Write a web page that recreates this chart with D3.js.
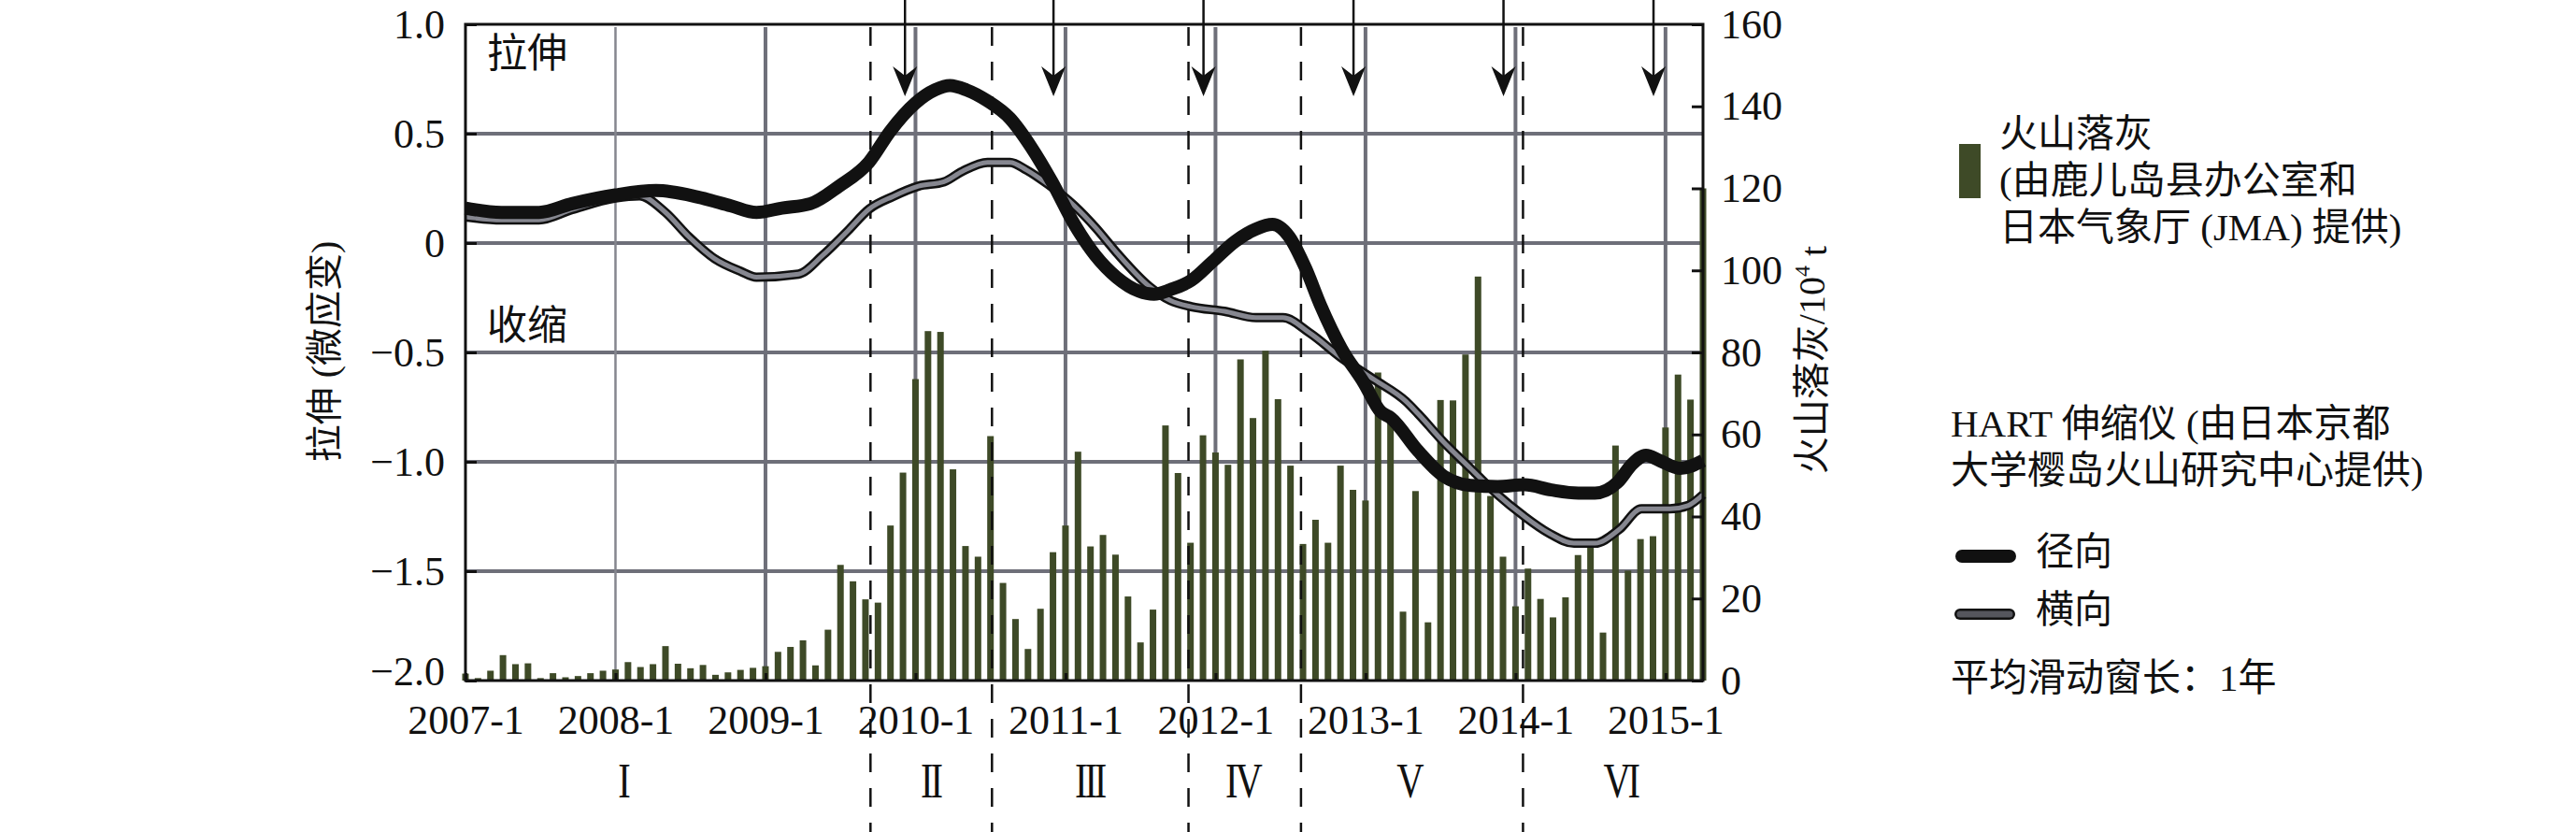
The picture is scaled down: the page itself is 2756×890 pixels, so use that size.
<!DOCTYPE html>
<html><head><meta charset="utf-8">
<script src="https://cdn.jsdelivr.net/npm/d3@7"></script>
<style>
body{margin:0;background:#fff;}
svg{display:block;}
.num{font-family:"Liberation Serif","Times New Roman",serif;}
.cjk{font-family:"Liberation Serif","Noto Sans CJK SC",serif;}
</style></head><body>
<svg id="c" width="2756" height="890"></svg>
<script>
// ---------- data ----------
const ashStartYear = 2007;           // first bar = 2007-1, one bar per month
const ashValues = [
  1.7, 0.6, 2.4, 6.2, 4.0, 4.2, 0.6, 1.8, 0.8, 1.1, 1.8, 2.4,
  2.7, 4.5, 3.3, 4.0, 8.4, 4.1, 3.0, 3.8, 1.4, 2.0, 2.6, 3.1,
  3.5, 7.0, 8.2, 9.8, 3.7, 12.4, 28.2, 24.2, 19.8, 19.0, 37.8, 50.7,
  73.5, 85.2, 85.0, 51.5, 32.8, 30.2, 59.6, 23.8, 15.0, 7.7, 17.5, 31.3,
  37.8, 55.8, 32.7, 35.5, 30.7, 20.5, 9.3, 17.3, 62.2, 50.6, 33.6, 59.8,
  55.6, 52.6, 78.3, 64.0, 80.4, 68.6, 52.4, 33.3, 39.2, 33.6, 52.4, 46.5,
  43.9, 75.1, 64.0, 16.8, 46.2, 14.2, 68.4, 68.3, 79.5, 98.5, 45.0, 30.2,
  18.1, 27.3, 19.9, 15.4, 20.3, 30.6, 33.0, 11.7, 57.3, 26.8, 34.5, 35.2,
  61.7, 74.6, 68.5, 120.0
];
const radialT = [2007.00,2007.24,2007.49,2007.71,2008.00,2008.27,2008.55,2008.77,2008.94,2009.11,2009.30,2009.49,2009.69,2009.83,2010.00,2010.13,2010.23,2010.34,2010.48,2010.63,2010.77,2010.91,2011.06,2011.20,2011.34,2011.49,2011.59,2011.70,2011.84,2011.98,2012.13,2012.27,2012.38,2012.49,2012.60,2012.70,2012.84,2012.99,2013.10,2013.17,2013.35,2013.52,2013.70,2013.88,2014.06,2014.24,2014.42,2014.53,2014.68,2014.78,2014.87,2014.96,2015.10,2015.25];
const radialV = [0.16,0.14,0.14,0.18,0.22,0.24,0.21,0.17,0.14,0.16,0.18,0.26,0.37,0.51,0.64,0.70,0.72,0.70,0.65,0.57,0.44,0.28,0.085,-0.057,-0.156,-0.22,-0.234,-0.213,-0.17,-0.085,0.007,0.064,0.085,0.03,-0.114,-0.284,-0.483,-0.64,-0.77,-0.80,-0.95,-1.065,-1.108,-1.113,-1.105,-1.129,-1.143,-1.143,-1.094,-1.009,-0.97,-0.994,-1.03,-0.995];
const tangentialT = [2007.00,2007.24,2007.49,2007.71,2008.00,2008.16,2008.33,2008.49,2008.66,2008.83,2008.94,2009.22,2009.38,2009.55,2009.69,2009.85,2010.02,2010.19,2010.31,2010.48,2010.63,2010.74,2010.88,2011.06,2011.20,2011.34,2011.56,2011.70,2011.84,2012.06,2012.27,2012.45,2012.63,2012.84,2013.06,2013.27,2013.35,2013.52,2013.70,2013.88,2014.05,2014.22,2014.39,2014.53,2014.69,2014.84,2015.03,2015.15,2015.25];
const tangentialV = [0.12,0.106,0.106,0.153,0.206,0.216,0.142,0.028,-0.071,-0.128,-0.156,-0.142,-0.057,0.057,0.155,0.213,0.26,0.28,0.327,0.369,0.369,0.334,0.27,0.17,0.071,-0.043,-0.199,-0.263,-0.291,-0.312,-0.341,-0.341,-0.412,-0.525,-0.625,-0.724,-0.78,-0.909,-1.03,-1.15,-1.245,-1.325,-1.372,-1.372,-1.31,-1.215,-1.215,-1.20,-1.15];
const phaseBounds = [2009.70, 2010.51, 2011.82, 2012.57, 2014.05];
const phaseLabels = ["I", "II", "III", "IV", "V", "VI"];
const phaseLabelPos = [2008.05, 2010.10, 2011.16, 2012.18, 2013.29, 2014.70];
const arrowDates = [2009.93, 2010.92, 2011.92, 2012.92, 2013.92, 2014.92];
const yearTicks = [2007, 2008, 2009, 2010, 2011, 2012, 2013, 2014, 2015];
const leftTicks = [1.0, 0.5, 0, -0.5, -1.0, -1.5, -2.0];
const leftTickLabels = ["1.0", "0.5", "0", "\u22120.5", "\u22121.0", "\u22121.5", "\u22122.0"];
const rightTicks = [0, 20, 40, 60, 80, 100, 120, 140, 160];
const ashLegend = ["火山落灰", "(由鹿儿岛县办公室和", "日本气象厅 (JMA) 提供)"];
const hartLegend = ["HART 伸缩仪 (由日本京都", "大学樱岛火山研究中心提供)"];
const seriesNames = ["径向", "横向"];
const windowNote = "平均滑动窗长：1年";

// ---------- layout ----------
const L = 498, R = 1822, T = 26, B = 728;
const svg = d3.select("#c");
const x = d3.scaleLinear().domain([2007, 2015.25]).range([L, R]);
const yL = d3.scaleLinear().domain([-2, 1]).range([B, T]);
const yR = d3.scaleLinear().domain([0, 160]).range([B, T]);
const gridCol = "#6e6f79";

// horizontal grid
svg.append("g").selectAll("line").data(leftTicks.filter(v => v > -2 && v < 1)).join("line")
  .attr("x1", L).attr("x2", R).attr("y1", d => yL(d)).attr("y2", d => yL(d))
  .attr("stroke", gridCol).attr("stroke-width", 4);
// vertical grid
svg.append("g").selectAll("line").data(yearTicks.slice(1)).join("line")
  .attr("x1", d => x(d)).attr("x2", d => x(d)).attr("y1", T + 3).attr("y2", B)
  .attr("stroke", d => d === 2008 ? "#85868e" : gridCol)
  .attr("stroke-width", d => d === 2008 ? 2.5 : 4);

// bars
const barW = 7;
svg.append("g").selectAll("rect").data(ashValues).join("rect")
  .attr("x", (d, i) => x(ashStartYear + i / 12) - barW / 2)
  .attr("width", barW)
  .attr("y", d => yR(d)).attr("height", d => B - yR(d))
  .attr("fill", "#3e4a27");

// dashed phase boundaries
svg.append("g").selectAll("line").data(phaseBounds).join("line")
  .attr("x1", d => x(d)).attr("x2", d => x(d)).attr("y1", T + 3).attr("y2", 890)
  .attr("stroke", "#111").attr("stroke-width", 2.5).attr("stroke-dasharray", "20,17");

// strain lines
const lineGen = d3.line().x(d => x(d[0])).y(d => yL(d[1])).curve(d3.curveMonotoneX);
const tang = tangentialT.map((t, i) => [t, tangentialV[i]]);
const rad = radialT.map((t, i) => [t, radialV[i]]);
svg.append("path").attr("d", lineGen(tang)).attr("fill", "none").attr("stroke", "#111").attr("stroke-width", 10).attr("stroke-linejoin", "round");
svg.append("path").attr("d", lineGen(tang)).attr("fill", "none").attr("stroke", "#868790").attr("stroke-width", 5).attr("stroke-linejoin", "round");
svg.append("path").attr("d", lineGen(rad)).attr("fill", "none").attr("stroke", "#111").attr("stroke-width", 14).attr("stroke-linejoin", "round");

// axes
const axL = d3.axisLeft(yL).tickValues(leftTicks).tickFormat((d, i) => leftTickLabels[i]).tickSizeInner(-12).tickSizeOuter(0).tickPadding(22);
const gL = svg.append("g").attr("transform", `translate(${L},0)`).call(axL);
const axR = d3.axisRight(yR).tickValues(rightTicks).tickFormat(d3.format("d")).tickSizeInner(-12).tickSizeOuter(0).tickPadding(19);
const gR = svg.append("g").attr("transform", `translate(${R},0)`).call(axR);
const axB = d3.axisBottom(x).tickValues(yearTicks).tickFormat(d => d + "-1").tickSizeInner(-8).tickSizeOuter(0).tickPadding(26);
const gB = svg.append("g").attr("transform", `translate(0,${B})`).call(axB);
[gL, gR, gB].forEach(g => {
  g.select(".domain").remove();
  g.selectAll(".tick line").attr("stroke", "#111").attr("stroke-width", 3);
  g.selectAll("text").attr("class", "num").attr("font-size", 44).attr("fill", "#111");
});
gB.selectAll("text").attr("font-size", 44);
// lowest left label sits slightly above its tick, as in the original
gL.selectAll(".tick").filter(d => d === -2).select("text").attr("dy", "0.1em");
// frame
svg.append("rect").attr("x", L).attr("y", T).attr("width", R - L).attr("height", B - T)
  .attr("fill", "none").attr("stroke", "#111").attr("stroke-width", 3);

// arrows
const ag = svg.append("g").selectAll("g").data(arrowDates).join("g")
  .attr("transform", d => `translate(${x(d)},0)`);
ag.append("line").attr("x1", 0).attr("x2", 0).attr("y1", 0).attr("y2", 90).attr("stroke", "#111").attr("stroke-width", 2.5);
ag.append("path").attr("d", "M0,103 L-13,71 L0,81 L13,71 Z").attr("fill", "#111");

// phase labels (Roman numerals)
svg.append("g").selectAll("text").data(phaseLabels).join("text")
  .attr("class", "num")
  .attr("transform", (d, i) => `translate(${x(phaseLabelPos[i])},835) scale(0.78,1)`)
  .attr("dy", "0.35em").attr("text-anchor", "middle").attr("font-size", 52)
  .attr("letter-spacing", -4).attr("fill", "#111").text(d => d);

// in-plot labels
svg.append("text").attr("class", "cjk").attr("x", 521).attr("y", 57).attr("dy", "0.36em")
  .attr("font-size", 43).attr("fill", "#111").text("拉伸");
svg.append("text").attr("class", "cjk").attr("x", 521).attr("y", 348).attr("dy", "0.36em")
  .attr("font-size", 43).attr("fill", "#111").text("收缩");

// axis titles
svg.append("text").attr("class", "cjk").attr("transform", "translate(347,376) rotate(-90)")
  .attr("text-anchor", "middle").attr("dy", "0.36em").attr("font-size", 40).attr("fill", "#111")
  .text("拉伸 (微应变)");
const rt = svg.append("text").attr("class", "cjk").attr("transform", "translate(1938,385) rotate(-90)")
  .attr("text-anchor", "middle").attr("dy", "0.36em").attr("font-size", 40).attr("fill", "#111");
rt.append("tspan").text("火山落灰/10");
rt.append("tspan").attr("font-size", 24).attr("dy", "-0.7em").text("4");
rt.append("tspan").attr("dy", "0.45em").text(" t");

// legend: ash
svg.append("rect").attr("x", 2096).attr("y", 154).attr("width", 23).attr("height", 58).attr("fill", "#3e4a27");
svg.append("g").selectAll("text").data(ashLegend).join("text")
  .attr("class", "cjk").attr("x", 2139).attr("y", (d, i) => 142 + i * 50).attr("dy", "0.36em")
  .attr("font-size", 41).attr("fill", "#111").text(d => d);
// legend: HART
svg.append("g").selectAll("text").data(hartLegend).join("text")
  .attr("class", "cjk").attr("x", 2087).attr("y", (d, i) => 452 + i * 50).attr("dy", "0.36em")
  .attr("font-size", 41).attr("fill", "#111").text(d => d);
svg.append("line").attr("x1", 2099).attr("x2", 2150).attr("y1", 595).attr("y2", 595)
  .attr("stroke", "#111").attr("stroke-width", 14).attr("stroke-linecap", "round");
svg.append("line").attr("x1", 2097).attr("x2", 2150).attr("y1", 657).attr("y2", 657)
  .attr("stroke", "#111").attr("stroke-width", 12).attr("stroke-linecap", "round");
svg.append("line").attr("x1", 2097).attr("x2", 2150).attr("y1", 657).attr("y2", 657)
  .attr("stroke", "#55565d").attr("stroke-width", 7).attr("stroke-linecap", "round");
svg.append("g").selectAll("text").data(seriesNames).join("text")
  .attr("class", "cjk").attr("x", 2178).attr("y", (d, i) => 589 + i * 62).attr("dy", "0.36em")
  .attr("font-size", 41).attr("fill", "#111").text(d => d);
svg.append("text").attr("class", "cjk").attr("x", 2087).attr("y", 724).attr("dy", "0.36em")
  .attr("font-size", 41).attr("fill", "#111").text(windowNote);
</script>
</body></html>
